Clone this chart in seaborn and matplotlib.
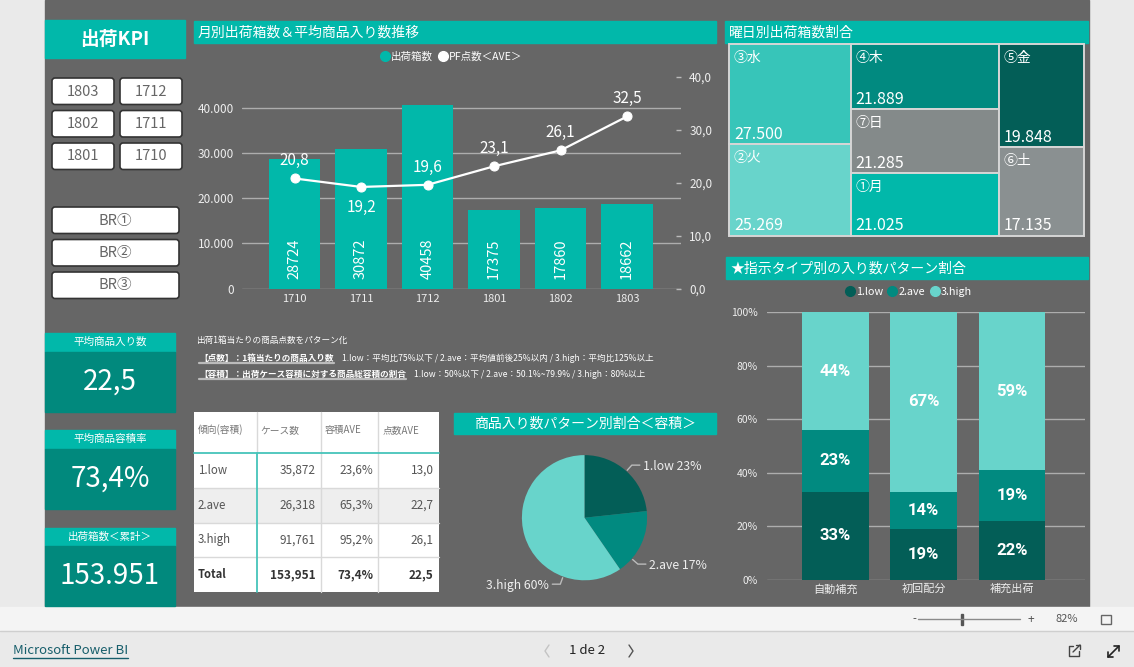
import numpy as np
import matplotlib
matplotlib.use('Agg')
import matplotlib.pyplot as plt
import seaborn as sns
from matplotlib.patches import Rectangle, FancyBboxPatch
from matplotlib.lines import Line2D

sns.set_style('white')
JP = ['Noto Sans CJK JP', 'DejaVu Sans']
plt.rcParams['font.family'] = JP

# ---- data ----
months = ['1710', '1711', '1712', '1801', '1802', '1803']
ship_boxes = [28724, 30872, 40458, 17375, 17860, 18662]
pf_ave = [20.8, 19.2, 19.6, 23.1, 26.1, 32.5]
pf_label_side = [1, -1, 1, 1, 1, 1]   # 1 = above the point, -1 = below

pattern_names = ['1.low', '2.ave', '3.high']
case_counts = [35872, 26318, 91761]
volume_ave = [23.6, 65.3, 95.2]
points_ave = [13.0, 22.7, 26.1]

weekdays = ['③水', '②火', '④木', '⑦日', '①月', '⑤金', '⑥土']
weekday_boxes = [27500, 25269, 21889, 21285, 21025, 19848, 17135]
weekday_cols = [2, 3, 2]   # cells per treemap column

order_types = ['自動補充', '初回配分', '補充出荷']
share_low = [33, 19, 22]
share_ave = [23, 14, 19]
share_high = [44, 67, 59]

period_buttons = [['1803', '1712'], ['1802', '1711'], ['1801', '1710']]
branch_buttons = ['BR①', 'BR②', 'BR③']

# totals used by the KPI cards and the table
total_cases = sum(case_counts)
total_vol = sum(c * v for c, v in zip(case_counts, volume_ave)) / total_cases
total_pts = sum(c * p for c, p in zip(case_counts, points_ave)) / total_cases

# colours
TEAL = '#01B8AA'
KPI_BODY = '#01897D'
DARK = '#035E57'
MID = '#018A80'
LIGHT = '#68D4CB'
CANVAS = '#666666'
TXT = '#EEEEEE'
GRID = '#ADADAD'
tm_colors = ['#37C5B9', '#68D4CB', '#018A80', '#848A8A', '#01B8AA', '#035E57', '#8A9091']


def fmt_dot(v):
    return f"{v:,.0f}".replace(',', '.')


def fmt_dec(v, suffix=''):
    return f"{v:.1f}".replace('.', ',') + suffix


W, H = 1134, 667
fig = plt.figure(figsize=(W / 100, H / 100), dpi=100, facecolor='#EAEAEA')


def box(x0, y0, x1, y1):
    return [x0 / W, 1 - y1 / H, (x1 - x0) / W, (y1 - y0) / H]


# background layer in pixel coordinates
bg = fig.add_axes([0, 0, 1, 1])
bg.set_xlim(0, W)
bg.set_ylim(H, 0)
bg.axis('off')
bg.add_patch(Rectangle((45, 0), 1044, 607, color=CANVAS))
bg.add_patch(Rectangle((0, 607), W, 23, color='#F4F4F4'))
bg.plot([0, W], [630.5, 630.5], color='#CFCFCF', lw=1)


def title_bar(x0, y0, x1, y1, text, center=False, size=10):
    bg.add_patch(Rectangle((x0, y0), x1 - x0, y1 - y0, color=TEAL))
    tx = (x0 + x1) / 2 if center else x0 + 4
    bg.text(tx, (y0 + y1) / 2, text, ha='center' if center else 'left',
            va='center', color='white', fontsize=size)


# ---- left column: header, slicer buttons, KPI cards ----
bg.add_patch(Rectangle((45, 20), 140, 38, color=TEAL))
bg.text(115, 39, '出荷KPI', ha='center', va='center', color='white',
        fontsize=13.5, fontweight='bold')

for r, row in enumerate(period_buttons):
    for c, lab in enumerate(row):
        x0 = 52 + c * 68
        y0 = 78 + r * 32.5
        bg.add_patch(FancyBboxPatch((x0, y0), 62, 26.5, boxstyle='round,pad=0,rounding_size=3',
                                    fc='white', ec='#333333', lw=1.2))
        bg.text(x0 + 31, y0 + 13.5, lab, ha='center', va='center', color='#666666', fontsize=10.5)

for r, lab in enumerate(branch_buttons):
    y0 = 207 + r * 32.5
    bg.add_patch(FancyBboxPatch((52, y0), 127, 26.5, boxstyle='round,pad=0,rounding_size=3',
                                fc='white', ec='#333333', lw=1.2))
    bg.text(115.5, y0 + 13.5, lab, ha='center', va='center', color='#666666', fontsize=10.5)

kpi_titles = ['平均商品入り数', '平均商品容積率', '出荷箱数＜累計＞']
kpi_values = [fmt_dec(total_pts), fmt_dec(total_vol, '%'), fmt_dot(total_cases)]
kpi_tops = [333, 430, 527.5]
for t, v, y0 in zip(kpi_titles, kpi_values, kpi_tops):
    bg.add_patch(Rectangle((45, y0), 130, 18.5, color=TEAL))
    bg.add_patch(Rectangle((45, y0 + 18.5), 130, 60, color=KPI_BODY))
    bg.text(110, y0 + 9, t, ha='center', va='center', color='white', fontsize=7.6)
    bg.text(110, y0 + 49, v, ha='center', va='center', color='white', fontsize=20)

# ---- combo chart: monthly boxes + average items ----
title_bar(194, 21, 715.5, 43.3, '月別出荷箱数＆平均商品入り数推移')

ax = fig.add_axes(box(241.7, 76.7, 680.9, 288.7))
ax.set_facecolor('none')
sns.barplot(x=months, y=ship_boxes, color=TEAL, saturation=1, width=0.777,
            errorbar=None, ax=ax, zorder=3, linewidth=0, edgecolor='none')
ax.set_xlim(-0.795, 5.809)
ax.set_ylim(0, 46800)
yt = [0, 10000, 20000, 30000, 40000]
ax.set_yticks(yt)
ax.set_yticklabels([fmt_dot(v) for v in yt])
ax.yaxis.grid(True, color=GRID, lw=1)
ax.set_axisbelow(True)
ax.tick_params(axis='y', length=0, pad=5.5, labelcolor=TXT, labelsize=8.5)
ax.tick_params(axis='x', length=0, pad=3.5, labelcolor=TXT, labelsize=8)
ax.set_xlabel('')
ax.set_ylabel('')
sns.despine(ax=ax, left=True, bottom=True)
for i, v in enumerate(ship_boxes):
    ax.annotate(str(v), (i, 0), xytext=(0, 7), textcoords='offset points', rotation=90,
                ha='center', va='bottom', color='white', fontsize=10.5, zorder=5)

ax2 = ax.twinx()
sns.lineplot(x=np.arange(len(months)), y=pf_ave, ax=ax2, color='white', lw=1.6,
             marker='o', markersize=6.5, markeredgecolor='white')
ax2.set_xlim(-0.795, 5.809)
ax2.set_ylim(0, 40)
ax2.set_yticks([0, 10, 20, 30, 40])
ax2.set_yticklabels([fmt_dec(v) for v in [0, 10, 20, 30, 40]])
ax2.tick_params(axis='y', direction='in', length=3.6, width=1, color='#BBBBBB', pad=6,
                labelcolor=TXT, labelsize=8.5)
ax2.set_ylabel('')
sns.despine(ax=ax2, left=True, bottom=True, right=True)
for i, (v, s) in enumerate(zip(pf_ave, pf_label_side)):
    ax2.annotate(fmt_dec(v), (i, v), xytext=(0, 12.6 if s > 0 else -15),
                 textcoords='offset points', ha='center', va='center', color='white', fontsize=11)

fig.legend([Line2D([], [], marker='o', ls='', color=TEAL, markersize=7),
            Line2D([], [], marker='o', ls='', color='white', markersize=7)],
           ['出荷箱数', 'PF点数＜AVE＞'], loc='center', bbox_to_anchor=(451 / W, 1 - 56.7 / H),
           ncol=2, frameon=False, fontsize=7.6, labelcolor='white', handletextpad=0.05,
           columnspacing=0.5, handlelength=1.0, borderpad=0)

# ---- note text ----
bg.text(196.5, 340.5, '出荷1箱当たりの商品点数をパターン化', ha='left', va='center',
        color='white', fontsize=6.2)
notes = [('【点数】：1箱当たりの商品入り数',
          '1.low：平均比75%以下 / 2.ave：平均値前後25%以内 / 3.high：平均比125%以上', 358),
         ('【容積】：出荷ケース容積に対する商品総容積の割合',
          '1.low：50%以下 / 2.ave：50.1%~79.9% / 3.high：80%以上', 374)]
note_heads = []
for head, body, y in notes:
    th = bg.text(199, y, head, ha='left', va='center', color='white', fontsize=6.2,
                 fontweight='bold')
    bg.annotate(body, xy=(1, 0.5), xycoords=th, xytext=(6, 0), textcoords='offset points',
                ha='left', va='center', color='white', fontsize=6.2)
    note_heads.append((th, y))

# ---- table ----
col_x = [194, 256.6, 320.8, 378.3, 438.5]
row_y = [412, 453, 488, 523, 557, 592]
bg.add_patch(Rectangle((col_x[0], row_y[0]), col_x[-1] - col_x[0], row_y[-1] - row_y[0],
                       fc='white', ec='none'))
bg.add_patch(Rectangle((col_x[0], row_y[2]), col_x[-1] - col_x[0], row_y[3] - row_y[2],
                       fc='#EEEEEE', ec='none'))
for y in row_y[2:5]:
    bg.plot([col_x[0], col_x[-1]], [y, y], color='#D9D9D9', lw=1)
for x in col_x[2:4]:
    bg.plot([x, x], [row_y[0], row_y[-1]], color='#D9D9D9', lw=1)
bg.plot([col_x[1], col_x[1]], [row_y[0], row_y[1]], color='#D9D9D9', lw=1)
bg.plot([col_x[1], col_x[1]], [row_y[1], row_y[-1]], color='#45C4BA', lw=1.3)
bg.plot([col_x[0], col_x[-1]], [row_y[1], row_y[1]], color='#45C4BA', lw=1.3)

headers = ['傾向(容積)', 'ケース数', '容積AVE', '点数AVE']
for j, h in enumerate(headers):
    bg.text(col_x[j] + 4, 430, h, ha='left', va='center', color='#777777', fontsize=7)

table_rows = [[n, f"{c:,}", fmt_dec(v, '%'), fmt_dec(p)]
              for n, c, v, p in zip(pattern_names, case_counts, volume_ave, points_ave)]
table_rows.append(['Total', f"{total_cases:,}", fmt_dec(total_vol, '%'), fmt_dec(total_pts)])
for r, row in enumerate(table_rows):
    yc = (row_y[r + 1] + row_y[r + 2]) / 2
    bold = row[0] == 'Total'
    for j, cell in enumerate(row):
        if j == 0:
            bg.text(col_x[0] + 4, yc, cell, ha='left', va='center',
                    color='#333333' if bold else '#555555', fontsize=8.3 if not bold else 8,
                    fontweight='bold' if bold else 'normal')
        else:
            bg.text(col_x[j + 1] - 5, yc, cell, ha='right', va='center',
                    color='#333333' if bold else '#555555', fontsize=8.5,
                    fontweight='bold' if bold else 'normal')

# ---- pie ----
title_bar(454, 413, 715.5, 433.5, '商品入り数パターン別割合＜容積＞', center=True)
cx, cy, rad = 584.5, 517.7, 62.6
axp = fig.add_axes(box(cx - rad, cy - rad, cx + rad, cy + rad))
axp.pie(case_counts, colors=[DARK, MID, LIGHT], startangle=90, counterclock=False,
        radius=1, wedgeprops=dict(lw=0))
axp.set_xlim(-1, 1)
axp.set_ylim(-1, 1)
pie_label_angle = [48, -41, -110]
for name, c, a in zip(pattern_names, case_counts, pie_label_angle):
    t = np.deg2rad(a)
    side = 1 if np.cos(t) >= 0 else -1
    sx, sy = cx + rad * 1.02 * np.cos(t), cy - rad * 1.02 * np.sin(t)
    ex, ey = cx + rad * 1.13 * np.cos(t), cy - rad * 1.13 * np.sin(t)
    hx = ex + 8 * side
    bg.plot([sx, ex, hx], [sy, ey, ey], color='#BBBBBB', lw=1)
    bg.text(hx + 3 * side, ey + 1, f"{name} {c / total_cases * 100:.0f}%",
            ha='left' if side > 0 else 'right', va='center', color=TXT, fontsize=8.8)

# ---- treemap ----
title_bar(725, 21, 1088, 43.3, '曜日別出荷箱数割合')
ax_tm = fig.add_axes(box(729, 44, 1084, 236))
total_week = sum(weekday_boxes)
ax_tm.set_xlim(0, total_week)
ax_tm.set_ylim(1, 0)
ax_tm.axis('off')
i = 0
x0 = 0
for n in weekday_cols:
    vals = weekday_boxes[i:i + n]
    colsum = sum(vals)
    y0 = 0
    for k, v in enumerate(vals):
        h = v / colsum
        ax_tm.add_patch(Rectangle((x0, y0), colsum, h, fc=tm_colors[i + k], ec='#D6D6D6',
                                  lw=1.4, clip_on=False))
        ax_tm.annotate(weekdays[i + k], (x0, y0), xytext=(3.6, -10), textcoords='offset points',
                       ha='left', va='center', color='white', fontsize=10)
        ax_tm.annotate(fmt_dot(v), (x0, y0 + h), xytext=(3.6, 7.2), textcoords='offset points',
                       ha='left', va='center', color='white', fontsize=11.5)
        y0 += h
    x0 += colsum
    i += n

# ---- 100% stacked bars ----
title_bar(726, 257, 1088, 279.3, '★指示タイプ別の入り数パターン割合')
ax3 = fig.add_axes(box(767, 312.3, 1085, 580))
ax3.set_facecolor('none')
cum_ave = [l + a for l, a in zip(share_low, share_ave)]
cum_high = [c + h for c, h in zip(cum_ave, share_high)]
for vals, col in [(cum_high, LIGHT), (cum_ave, MID), (share_low, DARK)]:
    sns.barplot(x=order_types, y=vals, color=col, saturation=1, width=0.754,
                errorbar=None, ax=ax3, zorder=3, linewidth=0, edgecolor='none')
ax3.set_xlim(-0.776, 2.827)
ax3.set_ylim(0, 100)
ax3.set_yticks(range(0, 101, 20))
ax3.set_yticklabels([f"{v}%" for v in range(0, 101, 20)])
ax3.yaxis.grid(True, color=GRID, lw=1)
ax3.set_axisbelow(True)
ax3.tick_params(axis='y', length=0, pad=6.5, labelcolor=TXT, labelsize=7.5)
ax3.tick_params(axis='x', length=0, pad=3, labelcolor=TXT, labelsize=8)
ax3.set_xlabel('')
ax3.set_ylabel('')
sns.despine(ax=ax3, left=True, bottom=True)
for i in range(len(order_types)):
    for base, v in [(0, share_low[i]), (share_low[i], share_ave[i]), (cum_ave[i], share_high[i])]:
        ax3.text(i, base + v / 2, f"{v}%", ha='center', va='center', color='white',
                 fontsize=12, fontweight='bold', family=['Roboto', 'DejaVu Sans'], zorder=5)

fig.legend([Line2D([], [], marker='o', ls='', color=c, markersize=7) for c in [DARK, MID, LIGHT]],
           pattern_names, loc='center', bbox_to_anchor=(908 / W, 1 - 292 / H), ncol=3,
           frameon=False, fontsize=7.8, labelcolor='white', handletextpad=0.05,
           columnspacing=0.4, handlelength=1.0, borderpad=0)

# ---- footer (viewer chrome) ----
bg.plot([918, 1020], [619, 619], color='#8A8A8A', lw=1)
bg.text(914, 619, '-', ha='center', va='center', color='#444444', fontsize=8)
bg.add_patch(Rectangle((960.5, 613.5), 2.5, 11, color='#555555'))
bg.text(1031, 619, '+', ha='center', va='center', color='#555555', fontsize=8.5)
bg.text(1067, 619, '82%', ha='center', va='center', color='#555555', fontsize=8)
bg.add_patch(Rectangle((1101, 614.5), 10, 9, fc='none', ec='#666666', lw=1))
mp = bg.text(13, 651, 'Microsoft Power BI', ha='left', va='center', color='#175E6B', fontsize=9.5)
bg.text(587, 651, '1 de 2', ha='center', va='center', color='#222222', fontsize=9.5)
bg.plot([549, 545, 549], [645, 651, 657], color='#C4C4C4', lw=1)
bg.plot([629, 633, 629], [645, 651, 657], color='#555555', lw=1)
# share icon
bg.plot([1073, 1069, 1069, 1079, 1079], [646, 646, 656, 656, 651], color='#444444', lw=1)
bg.plot([1073, 1080], [652, 645], color='#444444', lw=1)
bg.plot([1076, 1080, 1080], [645, 645, 649], color='#444444', lw=1)
# expand icon
bg.plot([1108, 1119], [657, 646], color='#222222', lw=1.2)
bg.plot([1114, 1119, 1119], [646, 646, 651], color='#222222', lw=1.2)
bg.plot([1108, 1108, 1113], [652, 657, 657], color='#222222', lw=1.2)

# underlines need the rendered text extents
fig.canvas.draw()
rend = fig.canvas.get_renderer()
inv = bg.transData.inverted()


def underline(t, y, color, lw):
    bb = t.get_window_extent(rend)
    (xa, _), (xb, _) = inv.transform([[bb.x0, bb.y0], [bb.x1, bb.y1]])
    bg.plot([xa, xb], [y, y], color=color, lw=lw)


for th, y in note_heads:
    underline(th, y + 4.5, '#BBBBBB', 1.6)
underline(mp, 658, '#175E6B', 1)

fig.savefig('out.png', dpi=100, facecolor=fig.get_facecolor())
